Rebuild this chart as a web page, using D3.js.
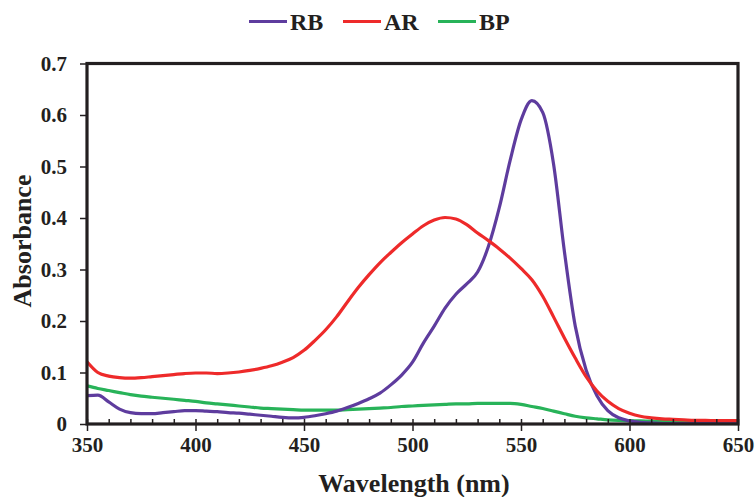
<!DOCTYPE html>
<html>
<head>
<meta charset="utf-8">
<script src="https://cdn.jsdelivr.net/npm/d3@7"></script>
<style>
  html, body { margin: 0; padding: 0; background: #fff; }
  svg { display: block; }
  text { font-family: "Liberation Serif", "Times New Roman", serif; font-weight: bold; fill: #231f20; }
</style>
</head>
<body>
<svg id="chart" width="756" height="497"></svg>
<script>
// ---- data ----
const wavelengths = [350,355,360,365,370,375,380,385,390,395,400,405,410,415,420,425,430,435,440,445,450,455,460,465,470,475,480,485,490,495,500,505,510,515,520,525,530,535,540,545,550,555,560,565,570,575,580,585,590,595,600,605,610,615,620,625,630,635,640,645,650];
const rbValues = [0.055,0.056,0.043,0.029,0.022,0.020,0.020,0.022,0.024,0.026,0.026,0.025,0.024,0.022,0.021,0.019,0.017,0.015,0.013,0.012,0.013,0.016,0.020,0.025,0.032,0.040,0.049,0.060,0.076,0.095,0.120,0.157,0.190,0.225,0.252,0.272,0.295,0.345,0.420,0.512,0.590,0.628,0.605,0.505,0.335,0.190,0.105,0.055,0.026,0.012,0.006,0.003,0.002,0.001,0.001,0.001,0.001,0.001,0.001,0.001,0.001];
const arValues = [0.121,0.100,0.093,0.090,0.089,0.090,0.092,0.094,0.096,0.098,0.099,0.099,0.098,0.099,0.101,0.104,0.108,0.113,0.120,0.129,0.143,0.162,0.183,0.208,0.237,0.265,0.290,0.313,0.333,0.352,0.369,0.385,0.396,0.401,0.398,0.387,0.371,0.356,0.340,0.322,0.302,0.280,0.248,0.208,0.167,0.128,0.092,0.064,0.044,0.030,0.021,0.015,0.012,0.010,0.009,0.008,0.007,0.007,0.0065,0.0065,0.0065];
const bpValues = [0.074,0.069,0.065,0.061,0.057,0.054,0.052,0.050,0.048,0.046,0.044,0.041,0.039,0.037,0.035,0.033,0.031,0.030,0.029,0.028,0.027,0.027,0.027,0.027,0.028,0.029,0.030,0.031,0.032,0.034,0.035,0.036,0.037,0.038,0.039,0.039,0.040,0.040,0.040,0.040,0.038,0.034,0.030,0.025,0.020,0.015,0.012,0.010,0.008,0.007,0.0065,0.006,0.0055,0.005,0.005,0.0045,0.004,0.004,0.0035,0.0035,0.003];
const seriesNames = ["RB","AR","BP"];
const seriesColors = ["#5e3c9e","#ee2a2a","#28b359"];
const xTicks = [350,400,450,500,550,600,650];
const xMinorTicks = [360,370,380,390,410,420,430,440,460,470,480,490,510,520,530,540,560,570,580,590,610,620,630,640];
const yTicks = [0,0.1,0.2,0.3,0.4,0.5,0.6,0.7];
const xTitle = "Wavelength (nm)";
const yTitle = "Absorbance";

// ---- chart ----
(function () {
const svg = d3.select("#chart");
const mLeft = 87, mRight = 738, mTop = 63.5, mBottom = 424;
const x = d3.scaleLinear().domain([350,650]).range([mLeft,mRight]);
const y = d3.scaleLinear().domain([0,0.7]).range([mBottom,mTop]);
const axisColor = "#231f20";

const allSeries = [rbValues, arValues, bpValues];
const line = d3.line()
  .x((d,i) => x(wavelengths[i]))
  .y(d => y(d))
  .curve(d3.curveMonotoneX);
[2,0,1].forEach(k => {
  svg.append("path")
    .datum(allSeries[k])
    .attr("d", line)
    .attr("fill","none")
    .attr("stroke", seriesColors[k])
    .attr("stroke-width", 3.2)
    .attr("stroke-linejoin","round");
});

// frame
svg.append("rect")
  .attr("x", mLeft).attr("y", mTop)
  .attr("width", mRight-mLeft).attr("height", mBottom-mTop)
  .attr("fill","none").attr("stroke", axisColor).attr("stroke-width", 3.2);

// y axis
const yAxis = d3.axisLeft(y).tickValues(yTicks).tickSize(7).tickPadding(13)
  .tickFormat(d => d === 0 ? "0" : d3.format(".1f")(d));
const gy = svg.append("g").attr("transform", `translate(${mLeft},0)`).call(yAxis);
gy.select(".domain").remove();
gy.selectAll(".tick line").attr("stroke", axisColor).attr("stroke-width", 1.5);
gy.selectAll(".tick text").attr("font-size", 21).attr("fill", axisColor)
  .style("font-family", '"Liberation Serif", "Times New Roman", serif').style("font-weight","bold");

// x axis minor (inward)
const xMinor = d3.axisBottom(x).tickValues(xMinorTicks).tickSize(-5).tickFormat("");
const gxm = svg.append("g").attr("transform", `translate(0,${mBottom})`).call(xMinor);
gxm.select(".domain").remove();
gxm.selectAll(".tick line").attr("stroke", axisColor).attr("stroke-width", 1.5);

// x axis major (crossing)
const xAxis = d3.axisBottom(x).tickValues(xTicks).tickSize(7).tickPadding(6).tickFormat(d3.format("d"));
const gx = svg.append("g").attr("transform", `translate(0,${mBottom})`).call(xAxis);
gx.select(".domain").remove();
gx.selectAll(".tick line").attr("stroke", axisColor).attr("stroke-width", 1.5).attr("y1", -5);
gx.selectAll(".tick text").attr("font-size", 21).attr("fill", axisColor)
  .style("font-family", '"Liberation Serif", "Times New Roman", serif').style("font-weight","bold");

// titles
svg.append("text")
  .attr("x", 414).attr("y", 492)
  .attr("text-anchor","middle")
  .attr("font-size", 26)
  .text(xTitle);
svg.append("text")
  .attr("transform", "translate(31,241) rotate(-90)")
  .attr("text-anchor","middle")
  .attr("font-size", 26)
  .text(yTitle);

// legend
const legendX = [249, 343, 438];
seriesNames.forEach((name, k) => {
  const g = svg.append("g").attr("transform", `translate(${legendX[k]},0)`);
  g.append("line").attr("x1",0).attr("x2",38).attr("y1",21.5).attr("y2",21.5)
    .attr("stroke", seriesColors[k]).attr("stroke-width", 3.2);
  g.append("text").attr("x", 41).attr("y", 30).attr("font-size", 24).text(name);
});
})();
</script>
</body>
</html>
